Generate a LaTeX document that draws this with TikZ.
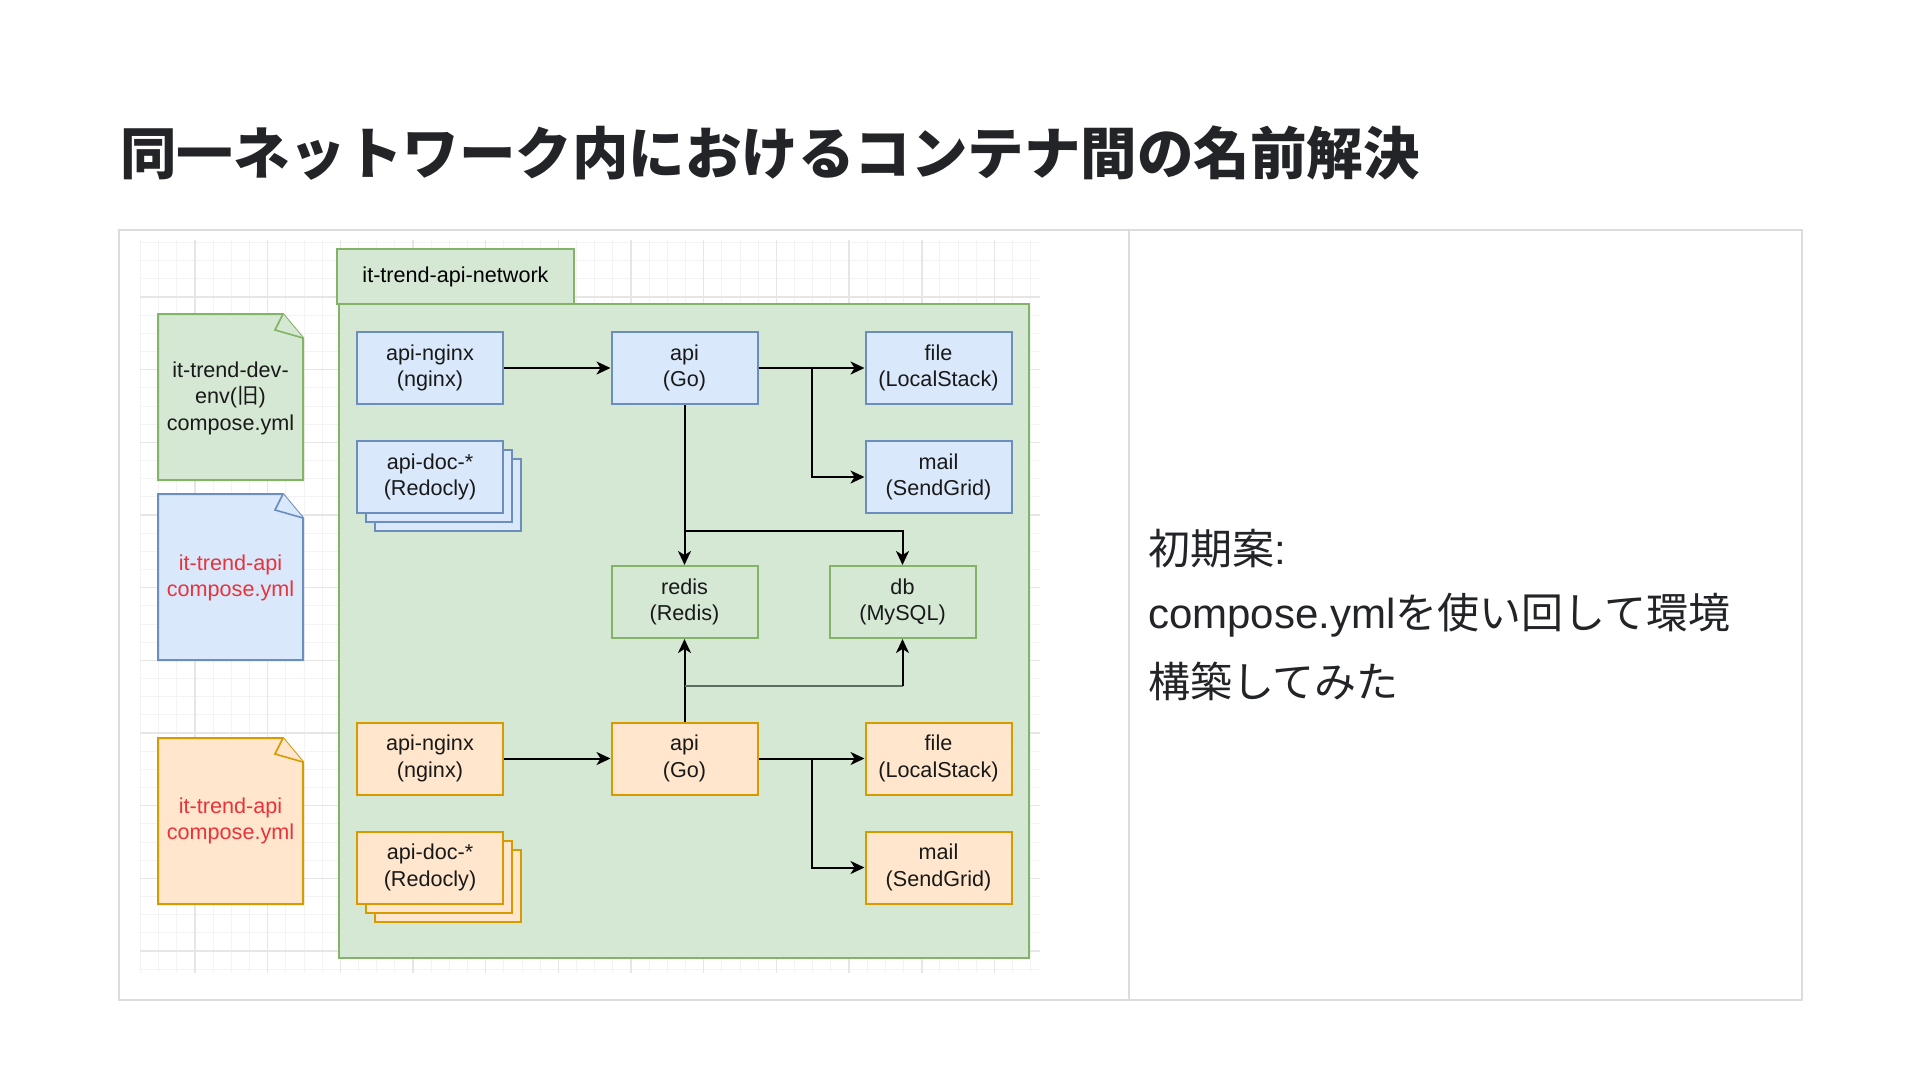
\documentclass[tikz,border=0pt]{standalone}
\usepackage{fontspec}
\setmainfont{Liberation Sans}
\newfontfamily\cjk{Noto Sans CJK JP}
\newfontfamily\latn{Liberation Sans}
\usetikzlibrary{arrows.meta}
\definecolor{bfill}{HTML}{DAE8FC}
\definecolor{bline}{HTML}{6C8EBF}
\definecolor{gfill}{HTML}{D5E8D4}
\definecolor{gline}{HTML}{82B366}
\definecolor{ofill}{HTML}{FFE6CC}
\definecolor{oline}{HTML}{D79B00}
\definecolor{redtxt}{HTML}{E8333A}
\definecolor{titletxt}{HTML}{222428}
\definecolor{panelline}{HTML}{DCDCDC}
\definecolor{gridminor}{HTML}{F3F3F3}
\definecolor{gridmajor}{HTML}{E6E6E6}
\definecolor{busgray}{HTML}{5E6E5E}
\newcommand\lbl{\fontsize{21.6}{26.5}\selectfont}
\tikzset{
  svc/.style={draw, line width=2pt, minimum width=146pt, minimum height=72pt, inner sep=0pt, align=center, font=\lbl, text=black!90},
  bluebox/.style={svc, fill=bfill, draw=bline},
  greenbox/.style={svc, fill=gfill, draw=gline},
  orangebox/.style={svc, fill=ofill, draw=oline},
  arr/.style={line width=2pt, -{Stealth[length=14pt,width=13pt,inset=4pt]}},
  notetext/.style={align=center, font=\lbl, inner sep=0pt},
  sidetext/.style={anchor=west, inner sep=0pt, text=titletxt, font=\cjk\fontsize{42}{50}\selectfont},
}
\newcommand\drawnote[6]{%
  \draw[line width=2pt, draw=#5, fill=#6, line join=miter] (#1,#2) -- ({#3-20},#2) -- (#3,{#2+24}) -- (#3,#4) -- (#1,#4) -- cycle;
  \draw[line width=1.6pt, draw=#5, fill=#6, line join=miter] ({#3-20},#2) -- ({#3-28},{#2+16}) -- (#3,{#2+24});
}
\begin{document}
\begin{tikzpicture}[x=1pt,y=-1pt]
\useasboundingbox[fill=white] (0,0) rectangle (1920,1080);

% title
\node[anchor=west, inner sep=0pt, text=titletxt, font=\cjk\bfseries\fontsize{56.5}{60}\selectfont] (title) at (120,153) {同一ネットワーク内におけるコンテナ間の名前解決};

% panel
\draw[panelline, line width=2pt] (119,230) rectangle (1802,1000);
\draw[panelline, line width=2pt] (1129,230) -- (1129,1000);

% grid
\begin{scope}
\clip (140,240) rectangle (1040,973);
\foreach \i in {0,...,50} {
  \draw[gridminor, line width=1pt] ({140.5+18.17*\i},240) -- ({140.5+18.17*\i},973);
  \draw[gridminor, line width=1pt] (140,{242.5+18.17*\i}) -- (1040,{242.5+18.17*\i});
}
\foreach \i in {0,...,13} {
  \draw[gridmajor, line width=1.4pt] ({195+72.68*\i},240) -- ({195+72.68*\i},973);
  \draw[gridmajor, line width=1.4pt] (140,{297+72.68*\i}) -- (1040,{297+72.68*\i});
}
\end{scope}

% notes
\drawnote{158}{314}{303}{480}{gline}{gfill}
\node[notetext, text=black!90] (noteg) at (230.5,398) {it-trend-dev-\\env({\cjk 旧})\\compose.yml};
\drawnote{158}{494}{303}{660}{bline}{bfill}
\node[notetext, text=redtxt] (noteb) at (230.5,578) {it-trend-api\\compose.yml};
\drawnote{158}{738}{303}{904}{oline}{ofill}
\node[notetext, text=redtxt] (noteo) at (230.5,821) {it-trend-api\\compose.yml};

% network
\draw[gline, fill=gfill, line width=2pt] (339,304) rectangle (1029,958);
\draw[gline, fill=gfill, line width=2pt] (337,249) rectangle (574,304);
\node[font=\lbl, inner sep=0pt] (nettab) at (455.5,277) {it-trend-api-network};

% blue services
\node[bluebox] (bn) at (430,368) {api-nginx\\(nginx)};
\node[bluebox] (ba) at (684.5,368) {api\\(Go)};
\node[bluebox] (bf) at (938.5,368) {file\\(LocalStack)};
\node[bluebox] (bm) at (938.5,477) {mail\\(SendGrid)};
\node[bluebox] (bd3) at (448,495) {};
\node[bluebox] (bd2) at (439,486) {};
\node[bluebox] (bd) at (430,477) {api-doc-*\\(Redocly)};

% shared
\node[greenbox] (redis) at (684.5,602) {redis\\(Redis)};
\node[greenbox] (db) at (902.5,602) {db\\(MySQL)};

% orange services
\node[orangebox] (on) at (430,758.5) {api-nginx\\(nginx)};
\node[orangebox] (oa) at (684.5,758.5) {api\\(Go)};
\node[orangebox] (of) at (938.5,758.5) {file\\(LocalStack)};
\node[orangebox] (om) at (938.5,867.5) {mail\\(SendGrid)};
\node[orangebox] (od3) at (448,885.5) {};
\node[orangebox] (od2) at (439,876.5) {};
\node[orangebox] (od) at (430,867.5) {api-doc-*\\(Redocly)};

% blue connectors
\draw[arr] (bn) -- (ba);
\draw[arr] (ba) -- (bf);
\coordinate (bj) at (812,368);
\draw[arr] (bj) |- (bm.west);
\draw[arr] (ba.south) -- (redis.north);
\coordinate (bk) at (684.5,531);
\draw[arr] (bk) -| (db.north);

% orange connectors
\draw[arr] (on) -- (oa);
\draw[arr] (oa) -- (of);
\coordinate (oj) at (812,758.5);
\draw[arr] (oj) |- (om.west);
\draw[arr] (oa.north) -- (redis.south);
\coordinate (ok) at (684.5,686);
\coordinate (okd) at (902.5,686);
\draw[busgray, line width=2pt] (ok) -- (okd);
\draw[arr] (okd) -- (db.south);

% right text
\node[sidetext] (t1) at (1148,549) {初期案{\latn :}};
\node[sidetext] (t2) at (1148,615) {{\latn compose.yml}を使い回して環境};
\node[sidetext] (t3) at (1148,681) {構築してみた};
\end{tikzpicture}
\end{document}
